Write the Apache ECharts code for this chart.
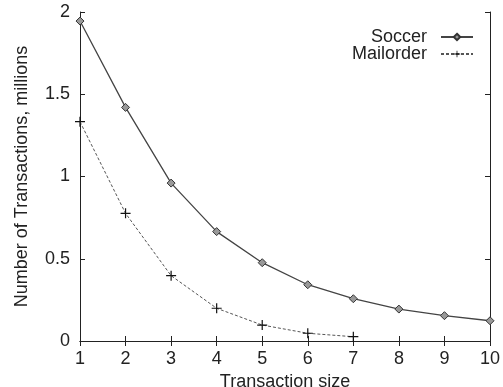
<!DOCTYPE html>
<html>
<head>
<meta charset="utf-8">
<script src="https://cdn.jsdelivr.net/npm/echarts@6/dist/echarts.min.js"></script>
<style>
html, body { margin: 0; padding: 0; background: #fff; }
#chart { width: 503px; height: 387px; }
</style>
</head>
<body>
<div id="chart"></div>
<script>
// Données
var sizes = [1, 2, 3, 4, 5, 6, 7, 8, 9, 10];
var soccer = [1.945, 1.42, 0.96, 0.665, 0.476, 0.342, 0.257, 0.194, 0.154, 0.123];
var mailorder = [1.333, 0.776, 0.397, 0.199, 0.097, 0.047, 0.026];

function pairs(xs, ys) {
	var out = [];
	for (var i = 0; i < ys.length; i++) out.push([xs[i], ys[i]]);
	return out;
}

var font = 'Liberation Sans';
var plusPath = 'path://M4.4,0H5.6V4.4H10V5.6H5.6V10H4.4V5.6H0V4.4H4.4Z';

var chart = echarts.init(document.getElementById('chart'));

var axisLine = { show: true, lineStyle: { color: '#222', width: 1 } };
var tick = { show: true, inside: true, length: 5, lineStyle: { color: '#222' } };

chart.setOption({
	animation: false,
	textStyle: { fontFamily: font },
	grid: { left: 80, right: 13, top: 12, bottom: 46, outerBoundsMode: 'none', containLabel: false },
	legend: {
		orient: 'vertical',
		right: 24,
		top: 23,
		align: 'right',
		itemWidth: 32,
		itemHeight: 8,
		itemGap: -1,
		formatter: function (name) { return name + '\u2002'; },
		textStyle: { fontFamily: font, fontSize: 18, color: '#222' },
		data: ['Soccer', 'Mailorder']
	},
	xAxis: [{
		type: 'value', min: 1, max: 10, interval: 1,
		name: 'Transaction size', nameLocation: 'middle', nameGap: 27,
		nameTextStyle: { fontFamily: font, fontSize: 18, color: '#222' },
		axisLine: axisLine, axisTick: tick, splitLine: { show: false },
		axisLabel: { fontFamily: font, fontSize: 18, color: '#222', margin: 9 }
	}, {
		type: 'value', min: 1, max: 10, interval: 1, position: 'top',
		axisLine: axisLine, axisTick: tick, splitLine: { show: false },
		axisLabel: { show: false }
	}],
	yAxis: [{
		type: 'value', min: 0, max: 2, interval: 0.5,
		name: 'Number of Transactions, millions', nameLocation: 'middle', nameGap: 49,
		nameTextStyle: { fontFamily: font, fontSize: 18, color: '#222' },
		axisLine: axisLine, axisTick: tick, splitLine: { show: false },
		axisLabel: { fontFamily: font, fontSize: 18, color: '#222', margin: 10 }
	}, {
		type: 'value', min: 0, max: 2, interval: 0.5, position: 'right',
		axisLine: axisLine, axisTick: tick, splitLine: { show: false },
		axisLabel: { show: false }
	}],
	series: [{
		name: 'Soccer',
		type: 'line',
		data: pairs(sizes, soccer),
		symbol: 'diamond',
		symbolSize: 8,
		itemStyle: { color: '#999', borderColor: '#333', borderWidth: 1 },
		lineStyle: { color: '#444', width: 1.3, type: 'solid' }
	}, {
		name: 'Mailorder',
		type: 'line',
		data: pairs(sizes, mailorder),
		symbol: plusPath,
		symbolSize: 10,
		itemStyle: { color: '#111' },
		lineStyle: { color: '#555', width: 1, type: [3, 2] }
	}]
});
</script>
</body>
</html>
